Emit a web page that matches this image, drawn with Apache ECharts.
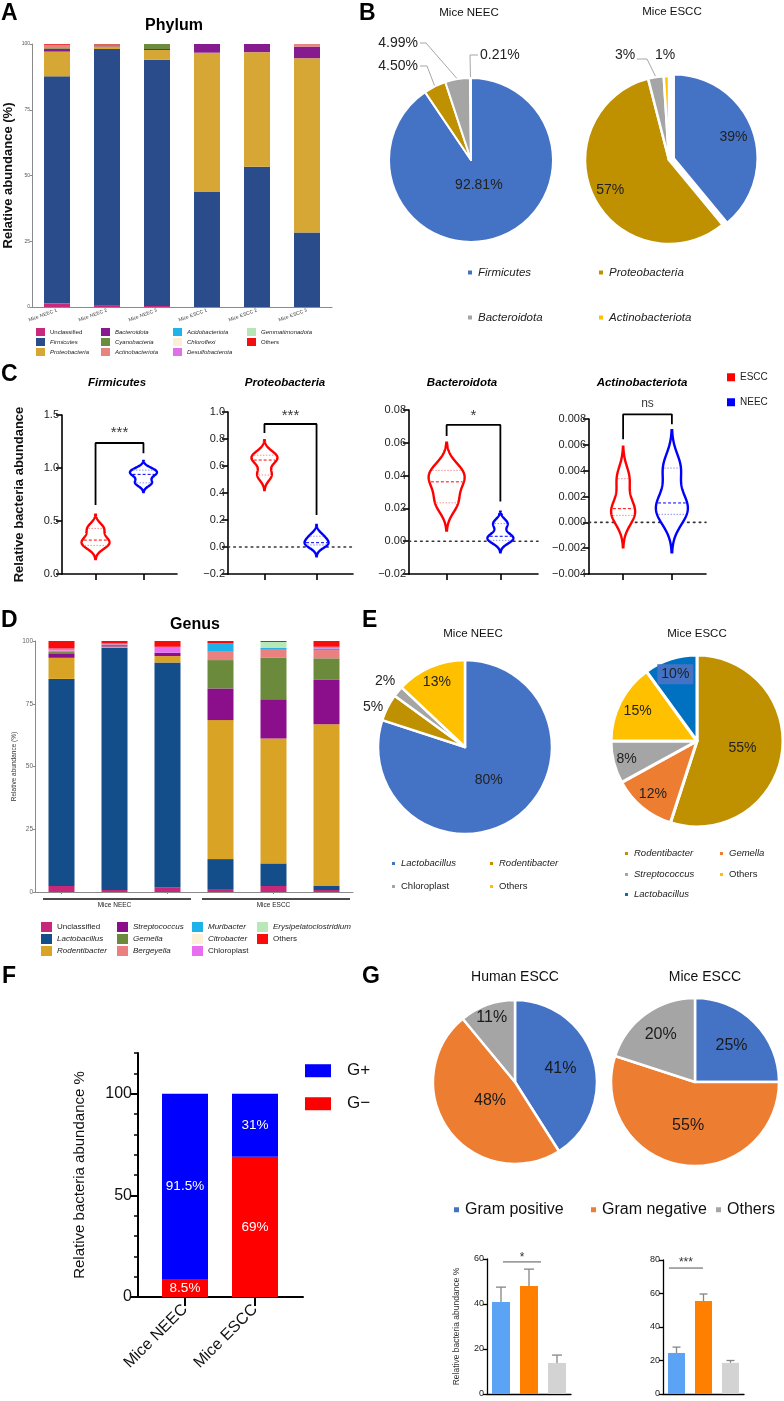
<!DOCTYPE html>
<html><head><meta charset="utf-8">
<script src="https://cdn.jsdelivr.net/npm/echarts@6/dist/echarts.min.js"></script>
<style>
html,body{margin:0;padding:0;background:#fff;width:784px;height:1401px;overflow:hidden}
.layer{position:absolute;left:0;top:0;width:784px;height:1401px}
</style>
</head><body>
<script>
// ================= DATA =================
// Panel A – phylum stacked bars (% per mouse)
const phylumSamples = ['Mice NEEC 1','Mice NEEC 2','Mice NEEC 3','Mice ESCC 1','Mice ESCC 2','Mice ESCC 3'];
const phylumNames = ['Unclassified','Firmicutes','Proteobacteria','Bacteroidota','Cyanobacteria','Actinobacteriota','Acidobacteriota','Chloroflexi','Desulfobacterota','Gemmatimonadota','Others'];
const phyUnclassified     = [1.3, 0.5, 0.4, 0, 0, 0];
const phyFirmicutes       = [86.4, 97.6, 93.6, 43.7, 53.3, 28.3];
const phyProteobacteria   = [9.4, 1.0, 3.7, 53.0, 43.6, 66.3];
const phyBacteroidota     = [1.0, 0.2, 0.4, 3.3, 3.1, 4.4];
const phyCyanobacteria    = [0.3, 0.5, 1.9, 0, 0, 0];
const phyActinobacteriota = [1.3, 0, 0, 0, 0, 1.0];
const phyAcidobacteriota  = [0, 0, 0, 0, 0, 0];
const phyChloroflexi      = [0, 0, 0, 0, 0, 0];
const phyDesulfobacterota = [0, 0, 0, 0, 0, 0];
const phyGemmatimonadota  = [0, 0, 0, 0, 0, 0];
const phyOthers           = [0.3, 0.2, 0, 0, 0, 0];

// Panel B – phylum pies
const phylaPie = ['Firmicutes','Proteobacteria','Bacteroidota','Actinobacteriota'];
const pieNEECPhylum = [92.81, 4.50, 4.99, 0.21];
const pieESCCPhylum = [39, 57, 3, 1];

// Panel C – violin samples (relative abundance)
const violinTaxa = ['Firmicutes','Proteobacteria','Bacteroidota','Actinobacteriota'];
const violinGroups = ['ESCC','NEEC'];
const firmicutesESCC = [0.27, 0.32, 0.43];
const firmicutesNEEC = [0.86, 0.94, 0.98];
const proteoESCC = [0.533, 0.644, 0.68];
const proteoNEEC = [0.015, 0.032, 0.08];
const bacteroESCC = [0.0234, 0.0362, 0.0432];
const bacteroNEEC = [0.0005, 0.0030, 0.0107];
const actinoESCC = [0.00054, 0.00106, 0.00338];
const actinoNEEC = [0.00062, 0.0015, 0.0042];
const sigLabels = ['***','***','*','ns'];
const sigBrackets = [[0.65,1.236,1.14],[0.845,0.911,0.237],[0.0642,0.0709,0.0242],[0.00643,0.00836,0.00759]]; // [left leg end, bar height, right leg end]
const sigTextY = [1.33, 0.97, 0.0764, 0.0092];

// Panel D – genus stacked bars
const genusSamples = ['Mice NEEC 1','Mice NEEC 2','Mice NEEC 3','Mice ESCC 1','Mice ESCC 2','Mice ESCC 3'];
const genusGroups = ['Mice NEEC','Mice ESCC'];
const genusNames = ['Unclassified','Lactobacillus','Rodentibacter','Streptococcus','Gemella','Bergeyella','Muribacter','Citrobacter','Chloroplast','Erysipelatoclostridium','Others'];
const genUnclassified  = [2.4, 0.8, 1.9, 1.2, 2.4, 0.8];
const genLactobacillus = [82.5, 96.5, 89.5, 11.9, 9.0, 1.6];
const genRodentibacter = [8.4, 0.5, 2.6, 55.4, 49.8, 64.4];
const genStreptococcus = [1.8, 0.5, 1.3, 12.6, 15.6, 17.7];
const genGemella       = [0.5, 0.3, 0, 11.3, 16.6, 8.6];
const genBergeyella    = [0.6, 0, 0, 3.3, 3.1, 3.3];
const genMuribacter    = [0, 0, 0, 3.3, 0.7, 0.6];
const genCitrobacter   = [0, 0, 0, 0, 0, 0];
const genChloroplast   = [0.8, 0.4, 2.4, 0, 0, 0.7];
const genErysipelatoclostridium = [0, 0, 0, 0, 2.4, 0];
const genOthers        = [3.0, 1.0, 2.3, 1.0, 0.4, 2.3];

// Panel E – genus pies
const genusPieNEECNames = ['Lactobacillus','Rodentibacter','Chloroplast','Others'];
const genusPieNEEC = [80, 5, 2, 13];
const genusPieESCCNames = ['Rodentibacter','Gemella','Streptococcus','Others','Lactobacillus'];
const genusPieESCC = [55, 12, 8, 15, 10];

// Panel F – Gram stacked bars
const gramGroups = ['Mice NEEC','Mice ESCC'];
const gramPositive = [91.5, 31];
const gramNegative = [8.5, 69];

// Panel G – Gram pies and bars
const gramClasses = ['Gram positive','Gram negative','Others'];
const humanESCCPie = [41, 48, 11];
const miceESCCPie = [25, 55, 20];
const humanBarMean = [40.9, 48, 13.8];
const humanBarErr  = [6.6, 7.5, 3.5];
const miceBarMean  = [24.5, 55.5, 18.6];
const miceBarErr   = [3.5, 4.2, 1.4];
const humanSig = [0, 58.7, 0.07, 1.43, 60.4];
const miceSig  = [0, 75.2, -0.28, 0.98, 78.2];

// ================= HELPERS =================
const FF = "'Liberation Sans', Arial, Helvetica, sans-serif";
function layer(opt){
  const d=document.createElement('div'); d.className='layer'; document.body.appendChild(d);
  const c=echarts.init(d); opt.animation=false;
  opt.textStyle=Object.assign({fontFamily:FF}, opt.textStyle||{});
  c.setOption(opt); return c;
}
function T(text,x,y,fs,o){ o=o||{};
  return {text:text,left:x,top:y,padding:0,textAlign:o.align||'center',textVerticalAlign:'middle',
    textStyle:{fontSize:fs,fontWeight:o.bold?'bold':'normal',fontStyle:o.italic?'italic':'normal',color:o.color||'#111',fontFamily:FF}};
}
function L(name,x,yc,o){
  const h=Math.max(o.h,o.fs*1.15);
  const item={name:name,icon:'rect',textStyle:{fontStyle:o.italic?'italic':'normal'}};
  if(o.color) item.itemStyle={color:o.color};
  return {data:[item],left:x,top:yc-h/2,padding:0,itemWidth:o.w,itemHeight:o.h,selectedMode:false,
    textStyle:{fontSize:o.fs,color:o.tc||'#222',fontFamily:FF,padding:o.pad||0}};
}
function pieMids(values){ const t=values.reduce((a,b)=>a+b,0); let acc=0;
  return values.map(v=>{const m=(acc+v/2)/t*2*Math.PI; acc+=v; return m;}); }
function shiftFor(values,r,fracs){ const mids=pieMids(values);
  return i=>{ const f=fracs[i]; return {dx:(f-0.5)*r*Math.sin(mids[i]), dy:-(f-0.5)*r*Math.cos(mids[i])}; }; }
function pieData(names,values,colors,insideIdx){
  return values.map((v,i)=>({name:names[i],value:v,itemStyle:{color:colors[i]},
    label:{position:insideIdx.indexOf(i)>=0?'inside':'outside'},labelLine:{show:insideIdx.indexOf(i)<0}}));
}
function pct(s,p){ const a=s.slice().sort((x,y)=>x-y); const n=a.length; let r=(n+1)*p; if(r<1) r=1; if(r>n) r=n;
  const lo=Math.floor(r), f=r-lo; return lo>=n?a[n-1]:a[lo-1]+f*(a[lo]-a[lo-1]); }

// ================= PANEL A =================
const phylumRows=[phyUnclassified,phyFirmicutes,phyProteobacteria,phyBacteroidota,phyCyanobacteria,phyActinobacteriota,phyAcidobacteriota,phyChloroflexi,phyDesulfobacterota,phyGemmatimonadota,phyOthers];
const phylumColors=['#c9297c','#2b4c8a','#d6a735','#861a8f','#6d8b3f','#e8847f','#20b3ea','#fcefd6','#e070e8','#b6e6b6','#f01010'];
layer({
  title:[T('A',1,14,23,{bold:true,align:'left',color:'#000'}),T('Phylum',174,26,16,{bold:true,color:'#000'})],
  grid:{left:32,top:44,width:300,height:263},
  xAxis:{type:'category',data:phylumSamples,axisLine:{lineStyle:{color:'#8a8a8a'}},axisTick:{show:false},
    axisLabel:{rotate:20,fontSize:5,color:'#444',margin:3,interval:0}},
  yAxis:{type:'value',min:0,max:100,interval:25,axisLine:{show:true,lineStyle:{color:'#8a8a8a'}},
    axisTick:{show:true,length:2,lineStyle:{color:'#8a8a8a'}},splitLine:{show:false},
    axisLabel:{fontSize:5,color:'#555',margin:2},
    name:'Relative abundance (%)',nameLocation:'middle',nameGap:17,nameTextStyle:{fontSize:13,fontWeight:'bold',color:'#111'}},
  legend:phylumNames.map((n,i)=>L(n,[36,101,173,247][Math.floor(i/3)],332+10*(i%3),{w:9,h:8,fs:6,italic:!(n==='Unclassified'||n==='Others')})),
  series:phylumNames.map((n,i)=>({name:n,type:'bar',stack:'p',barWidth:26,data:phylumRows[i],itemStyle:{color:phylumColors[i]}}))
});

// ================= PANEL B =================
const bColors=['#4472c4','#bf9000','#a5a5a5','#ffc000'];
const bNeecShift=shiftFor(pieNEECPhylum,82,[0.29]);
const bNeecOut={1:{x:418,y:66,align:'right',ex:427},2:{x:418,y:43,align:'right',ex:426},3:{x:480,y:55,align:'left',ex:470}};
const bEsccShift=shiftFor(pieESCCPhylum,84,[0.72,0.75]);
const bEsccOut={2:{x:625,y:55,align:'center',ex:647,end:[637,59]},3:{x:665,y:55,align:'center'}};
const bEsccData=pieData(phylaPie,pieESCCPhylum,bColors,[0,1]);
bEsccData[0].selected=true; bEsccData[3].labelLine={show:false};
layer({
  title:[T('B',359,14,23,{bold:true,align:'left',color:'#000'}),T('Mice NEEC',469,13,11.5),T('Mice ESCC',672,12,11.5)],
  legend:[L('Firmicutes',466,273,{w:6,h:6,fs:11.5,italic:true}),L('Proteobacteria',597,273,{w:6,h:6,fs:11.5,italic:true}),
          L('Bacteroidota',466,318,{w:6,h:6,fs:11.5,italic:true}),L('Actinobacteriota',597,318,{w:6,h:6,fs:11.5,italic:true})],
  series:[
    {type:'pie',center:[471,160],radius:82,startAngle:90,clockwise:true,avoidLabelOverlap:false,silent:true,
     itemStyle:{borderColor:'#fff',borderWidth:2},
     label:{fontSize:14,color:'#222',formatter:p=>p.value.toFixed(2)+'%'},
     labelLine:{length:8,length2:8,lineStyle:{color:'#a6a6a6',width:1}},
     data:pieData(phylaPie,pieNEECPhylum,bColors,[0]),
     labelLayout:function(p){ const i=p.dataIndex; if(i===0) return bNeecShift(0);
       const q=bNeecOut[i]; const r={x:q.x,y:q.y,align:q.align,verticalAlign:'middle'};
       if(p.labelLinePoints){ const e=p.labelLinePoints[0]; const endX=q.align==='right'?q.x+2:q.x-2;
         r.labelLinePoints=[[e[0],e[1]],[q.ex,q.y],[endX,q.y]]; }
       return r; }},
    {type:'pie',center:[669,160],radius:84,startAngle:90,clockwise:true,avoidLabelOverlap:false,silent:true,
     selectedMode:'single',selectedOffset:5,
     itemStyle:{borderColor:'#fff',borderWidth:2.5},
     label:{fontSize:14,color:'#222',formatter:p=>p.value+'%'},
     labelLine:{length:8,length2:8,lineStyle:{color:'#a6a6a6',width:1}},
     data:bEsccData,
     labelLayout:function(p){ const i=p.dataIndex; if(i<2) return bEsccShift(i);
       const q=bEsccOut[i]; const r={x:q.x,y:q.y,align:q.align,verticalAlign:'middle'};
       if(q.end && p.labelLinePoints){ const e=p.labelLinePoints[0]; r.labelLinePoints=[[e[0],e[1]],[q.ex,q.end[1]],q.end]; }
       return r; }}
  ]
});

// ================= PANEL C =================
const cGrids=[{left:62,top:415,width:115,height:159},{left:228,top:412,width:125,height:162},{left:409,top:410,width:129,height:164},{left:589,top:419,width:117,height:155}];
const cAxes=[{min:0,max:1.5,interval:0.5,d:1},{min:-0.2,max:1.0,interval:0.2,d:1},{min:-0.02,max:0.08,interval:0.02,d:2},{min:-0.004,max:0.008,interval:0.002,d:3}];
const cSamples=[[firmicutesESCC,firmicutesNEEC],[proteoESCC,proteoNEEC],[bacteroESCC,bacteroNEEC],[actinoESCC,actinoNEEC]];
const cBw=[[0.05,0.033],[0.043,0.032],[0.0065,0.0028],[0.00095,0.00113]];
const cHw=[[14,13.5],[13,12],[18,13],[12,16]];
const cTitleX=[117,285,462,642];
function violinSeries(p,gi){
  const samples=cSamples[p][gi], bw=cBw[p][gi], hw=cHw[p][gi];
  const color=gi===0?'#ff0000':'#0000ff', light=gi===0?'#f29090':'#9090f5';
  return {type:'custom',name:violinGroups[gi],xAxisIndex:p,yAxisIndex:p,data:[[gi,pct(samples,0.5)]],encode:{x:0,y:1},
    itemStyle:{color:color},clip:false,z:3,silent:true,
    renderItem:function(params,api){
      const kde=y=>samples.reduce((a,v)=>{const z=(y-v)/bw; return a+Math.exp(-0.5*z*z);},0);
      const lo=Math.min.apply(null,samples)-2.6*bw, hi=Math.max.apply(null,samples)+2.6*bw, N=140;
      const ys=[]; for(let k=0;k<=N;k++) ys.push(lo+(hi-lo)*k/N);
      const ds=ys.map(kde); const dmax=Math.max.apply(null,ds);
      const cx=api.coord([gi,lo])[0]; const R=[],Lf=[];
      ys.forEach((y,k)=>{const py=api.coord([gi,y])[1]; const w=hw*ds[k]/dmax; R.push([cx+w,py]); Lf.push([cx-w,py]);});
      const pts=R.concat(Lf.reverse());
      const qs=[pct(samples,0.25),pct(samples,0.5),pct(samples,0.75)];
      const lines=qs.map((q,j)=>{const py=api.coord([gi,q])[1]; const w=Math.max(hw*kde(q)/dmax-1.5,1);
        return {type:'line',shape:{x1:cx-w,y1:py,x2:cx+w,y2:py},style:{stroke:j===1?color:light,lineWidth:1,lineDash:j===1?[3,2]:[1.5,1.5]}};});
      return {type:'group',children:[{type:'polygon',shape:{points:pts},style:{fill:'#fff',stroke:color,lineWidth:2.4}}].concat(lines)};
    }};
}
const cSeries=[];
for(let p=0;p<4;p++){
  cSeries.push(violinSeries(p,0),violinSeries(p,1));
  const b=sigBrackets[p];
  cSeries.push({type:'line',xAxisIndex:p,yAxisIndex:p,data:[[0,b[0]],[0,b[1]],[1,b[1]],[1,b[2]]],symbol:'none',
    lineStyle:{color:'#000',width:1.8},clip:false,silent:true,z:4});
  cSeries.push({type:'scatter',xAxisIndex:p,yAxisIndex:p,data:[[0.5,sigTextY[p]]],symbolSize:1,itemStyle:{color:'rgba(0,0,0,0)'},
    clip:false,silent:true,label:{show:true,position:'inside',formatter:sigLabels[p],fontSize:sigLabels[p]==='ns'?12:15,color:'#000'}});
  if(p>0) cSeries.push({type:'line',xAxisIndex:p,yAxisIndex:p,data:[[-0.7,0],[1.7,0]],symbol:'none',silent:true,z:2,
    lineStyle:{color:'#333',width:1.6,type:[1.6,4.2],cap:'round'}});
}
layer({
  title:[T('C',1,375,23,{bold:true,align:'left',color:'#000'})].concat(violinTaxa.map((t,i)=>T(t,cTitleX[i],383,11.5,{bold:true,italic:true,color:'#000'}))),
  legend:[L('ESCC',727,378,{w:8,h:8,fs:10,color:'#ff0000'}),L('NEEC',727,403,{w:8,h:8,fs:10,color:'#0000ff'})],
  grid:cGrids,
  xAxis:cGrids.map((g,i)=>({type:'value',gridIndex:i,min:-0.7,max:1.7,splitLine:{show:false},
    axisLine:{show:true,onZero:false,lineStyle:{color:'#000',width:1.6}},
    axisTick:{show:true,customValues:[0,1],length:6,lineStyle:{color:'#000',width:1.6}},axisLabel:{show:false}})),
  yAxis:cAxes.map((a,i)=>{
    const ax={type:'value',gridIndex:i,min:a.min,max:a.max,interval:a.interval,splitLine:{show:false},
      axisLine:{show:true,onZero:false,lineStyle:{color:'#000',width:1.6}},
      axisTick:{show:true,length:6,lineStyle:{color:'#000',width:1.6}},
      axisLabel:{fontSize:11,color:'#222',margin:3,formatter:v=>(v<-1e-12?'\u2212':'')+Math.abs(v).toFixed(a.d)}};
    if(i===0){ax.name='Relative bacteria abundance';ax.nameLocation='middle';ax.nameGap=36;
      ax.nameTextStyle={fontSize:13,fontWeight:'bold',color:'#111'};}
    return ax;}),
  series:cSeries
});

// ================= PANEL D =================
const genusRows=[genUnclassified,genLactobacillus,genRodentibacter,genStreptococcus,genGemella,genBergeyella,genMuribacter,genCitrobacter,genChloroplast,genErysipelatoclostridium,genOthers];
const genusColors=['#c8287a','#134e8a','#d9a426','#8b0f8b','#6b8a3c','#ea8080','#1fb1ea','#fdf0d8','#e86ef0','#b8e8b8','#f80c0c'];
const plainGenus=['Unclassified','Chloroplast','Others'];
layer({
  title:[T('D',1,621,23,{bold:true,align:'left',color:'#000'}),T('Genus',195,625,16,{bold:true,color:'#000'})],
  grid:{left:35,top:641,width:318,height:251},
  xAxis:[{type:'category',data:genusSamples,axisLine:{lineStyle:{color:'#8a8a8a'}},
          axisTick:{show:true,alignWithLabel:true,length:2,lineStyle:{color:'#8a8a8a'}},axisLabel:{show:false}},
         {type:'category',data:genusGroups,position:'bottom',offset:6,axisLine:{show:false},axisTick:{show:false},
          axisLabel:{fontSize:6.5,color:'#222',margin:4}}],
  yAxis:{type:'value',min:0,max:100,interval:25,axisLine:{show:true,lineStyle:{color:'#8a8a8a'}},
    axisTick:{show:true,length:2,lineStyle:{color:'#8a8a8a'}},splitLine:{show:false},
    axisLabel:{fontSize:6.5,color:'#666',margin:2},
    name:'Relative abundance (%)',nameLocation:'middle',nameGap:17,nameTextStyle:{fontSize:6.5,color:'#333'}},
  legend:genusNames.map((n,i)=>L(n,[41,117,192,257][Math.floor(i/3)],927+12*(i%3),{w:11,h:10,fs:8,italic:plainGenus.indexOf(n)<0})),
  graphic:[{type:'line',shape:{x1:43,y1:899,x2:191,y2:899},style:{stroke:'#111',lineWidth:1.5}},
           {type:'line',shape:{x1:202,y1:899,x2:350,y2:899},style:{stroke:'#111',lineWidth:1.5}}],
  series:genusNames.map((n,i)=>({name:n,type:'bar',stack:'g',barWidth:26,data:genusRows[i],itemStyle:{color:genusColors[i]}}))
});

// ================= PANEL E =================
const eNeecColors=['#4472c4','#bf9000','#a5a5a5','#ffc000'];
const eEsccColors=['#bf9000','#ed7d31','#a5a5a5','#ffc000','#0070c0'];
const eNeecShift=shiftFor(genusPieNEEC,87,[0.43,null,null,0.78]);
const eNeecOut={1:{x:373,y:707},2:{x:385,y:681}};
const eEsccShift=shiftFor(genusPieESCC,86,[0.5,0.77,0.81,0.74,0.78]);
const eEsccData=pieData(genusPieESCCNames,genusPieESCC,eEsccColors,[0,1,2,3,4]);
eEsccData[4].label={position:'inside',backgroundColor:'#4472c4',padding:[3,4]};
const eNeecData=pieData(genusPieNEECNames,genusPieNEEC,eNeecColors,[0,3]);
eNeecData[1].labelLine={show:false}; eNeecData[2].labelLine={show:false};
const legE={w:5,h:5,fs:9.5};
layer({
  title:[T('E',362,621,23,{bold:true,align:'left',color:'#000'}),T('Mice NEEC',473,634,11.5),T('Mice ESCC',697,634,11.5)],
  legend:[L('Lactobacillus',390,864,Object.assign({italic:true,color:eNeecColors[0]},legE)),
          L('Rodentibacter',488,864,Object.assign({italic:true,color:eNeecColors[1]},legE)),
          L('Chloroplast',390,887,Object.assign({italic:false,color:eNeecColors[2]},legE)),
          L('Others',488,887,Object.assign({italic:false,color:eNeecColors[3]},legE)),
          L('Rodentibacter',623,854,Object.assign({italic:true,color:eEsccColors[0]},legE)),
          L('Gemella',718,854,Object.assign({italic:true,color:eEsccColors[1]},legE)),
          L('Streptococcus',623,875,Object.assign({italic:true,color:eEsccColors[2]},legE)),
          L('Others',718,875,Object.assign({italic:false,color:eEsccColors[3]},legE)),
          L('Lactobacillus',623,895,Object.assign({italic:true,color:eEsccColors[4]},legE))],
  series:[
    {type:'pie',center:[465,747],radius:87,startAngle:90,clockwise:true,avoidLabelOverlap:false,silent:true,
     itemStyle:{borderColor:'#fff',borderWidth:2.5},
     label:{fontSize:14,color:'#222',formatter:p=>p.value+'%'},labelLine:{show:false},
     data:eNeecData,
     labelLayout:function(p){ const i=p.dataIndex; if(eNeecOut[i]) return {x:eNeecOut[i].x,y:eNeecOut[i].y,align:'center',verticalAlign:'middle'};
       return eNeecShift(i); }},
    {type:'pie',center:[697,741],radius:86,startAngle:90,clockwise:true,avoidLabelOverlap:false,silent:true,
     itemStyle:{borderColor:'#fff',borderWidth:3},
     label:{fontSize:14,color:'#222',formatter:p=>p.value+'%'},labelLine:{show:false},
     data:eEsccData,
     labelLayout:function(p){ return eEsccShift(p.dataIndex); }}
  ]
});

// ================= PANEL F =================
// grid 0 carries the visible axes, grid 1 (same vertical scale) carries the stacked category bars
layer({
  title:[T('F',2,977,23,{bold:true,align:'left',color:'#000'})],
  grid:[{left:138,top:1053,width:165,height:244},{left:150,top:1053,width:140,height:244}],
  xAxis:[{type:'value',gridIndex:0,min:-0.671,max:1.686,splitLine:{show:false},
    axisLine:{show:true,onZero:false,lineStyle:{color:'#000',width:2}},
    axisTick:{show:true,customValues:[0,1],length:9,lineStyle:{color:'#000',width:2}},
    axisLabel:{customValues:[0,1],formatter:v=>gramGroups[Math.round(v)],rotate:45,fontSize:16,color:'#111',margin:10}},
   {type:'category',gridIndex:1,data:gramGroups,show:false}],
  yAxis:[{type:'value',gridIndex:0,min:0,max:120,splitLine:{show:false},
    axisLine:{show:true,onZero:false,lineStyle:{color:'#000',width:2}},
    axisTick:{show:true,customValues:[0,50,100],length:8,lineStyle:{color:'#000',width:2}},
    axisLabel:{customValues:[0,50,100],fontSize:16,color:'#111',margin:6},
    name:'Relative bacteria abundance %',nameLocation:'middle',nameGap:51,nameTextStyle:{fontSize:15,color:'#111'}},
   {type:'value',gridIndex:0,position:'left',min:0,max:120,interval:10,splitLine:{show:false},
    axisLine:{show:false,onZero:false},
    axisTick:{show:true,length:4,lineStyle:{color:'#000',width:1.5}},axisLabel:{show:false}},
   {type:'value',gridIndex:1,min:0,max:120,show:false,splitLine:{show:false}}],
  legend:[L('G+',305,1072,{w:26,h:13,fs:17,pad:[0,0,0,11],tc:'#111'}),L('G\u2212',305,1105,{w:26,h:13,fs:17,pad:[0,0,0,11],tc:'#111'})],
  series:[
    {name:'G\u2212',type:'bar',xAxisIndex:1,yAxisIndex:2,stack:'gram',barWidth:46,data:gramNegative,itemStyle:{color:'#ff0000'},
     label:{show:true,position:'inside',color:'#fff',fontSize:13.5,formatter:p=>p.value+'%'}},
    {name:'G+',type:'bar',xAxisIndex:1,yAxisIndex:2,stack:'gram',barWidth:46,data:gramPositive,itemStyle:{color:'#0000ff'},
     label:{show:true,position:'inside',color:'#fff',fontSize:13.5,formatter:p=>p.value+'%'}}
  ]
});

// ================= PANEL G =================
const gPieColors=['#4472c4','#ed7d31','#a5a5a5'];
const gBarColors=['#5ba3f5','#ff8000','#d3d3d3'];
const gHumanShift=shiftFor(humanESCCPie,82,[0.54,0.34,0.80]);
const gMiceShift=shiftFor(miceESCCPie,84,[0.58,0.49,0.66]);
function errSeries(k,means,errs,cap){
  return {type:'custom',xAxisIndex:k,yAxisIndex:k,data:means.map((v,i)=>[i,v,errs[i]]),clip:false,silent:true,z:3,
    renderItem:function(params,api){ const i=api.value(0),v=api.value(1),e=api.value(2);
      const b=api.coord([i,v]), t=api.coord([i,v+e]);
      const st={stroke:'#858585',lineWidth:1.3};
      return {type:'group',children:[{type:'line',shape:{x1:b[0],y1:b[1],x2:t[0],y2:t[1]},style:st},
        {type:'line',shape:{x1:t[0]-cap/2,y1:t[1],x2:t[0]+cap/2,y2:t[1]},style:st}]}; }};
}
function sigSeries(k,spec,text){
  return {type:'custom',xAxisIndex:k,yAxisIndex:k,data:[spec],clip:false,silent:true,z:4,
    renderItem:function(params,api){ const yl=api.value(1),f0=api.value(2),f1=api.value(3),yt=api.value(4);
      const c=api.coord([0,yl]); const band=api.size([1,0])[0]; const x0=c[0]+f0*band, x1=c[0]+f1*band;
      const ty=api.coord([0,yt])[1];
      return {type:'group',children:[{type:'line',shape:{x1:x0,y1:c[1],x2:x1,y2:c[1]},style:{stroke:'#555',lineWidth:1}},
        {type:'text',style:{text:text,x:(x0+x1)/2,y:ty,align:'center',verticalAlign:'middle',fontSize:12,fontFamily:FF,fill:'#333'}}]}; }};
}
const gGrids=[{left:487,top:1259,width:84,height:135},{left:663,top:1260,width:81,height:134}];
const legG={w:7,h:7,fs:16,tc:'#111'};
layer({
  title:[T('G',362,977,23,{bold:true,align:'left',color:'#000'}),T('Human ESCC',515,977,14),T('Mice ESCC',705,977,14)],
  legend:[L('Gram positive',452,1211,legG),L('Gram negative',589,1211,legG),L('Others',714,1211,legG)],
  grid:gGrids,
  xAxis:gGrids.map((g,k)=>({type:'category',gridIndex:k,data:gramClasses,
    axisLine:{lineStyle:{color:'#000',width:1.3}},axisTick:{alignWithLabel:true,length:5,lineStyle:{color:'#000',width:1.3}},axisLabel:{show:false}})),
  yAxis:gGrids.map((g,k)=>{ const ax={type:'value',gridIndex:k,min:0,max:[60,80][k],interval:20,splitLine:{show:false},
    axisLine:{show:true,lineStyle:{color:'#000',width:1.3}},axisTick:{show:true,length:4,lineStyle:{color:'#000',width:1.3}},
    axisLabel:{fontSize:9,color:'#222',margin:3}};
    if(k===0){ax.name='Relative bacteria abundance %';ax.nameLocation='middle';ax.nameGap=26;ax.nameTextStyle={fontSize:8.5,color:'#333'};}
    return ax;}),
  series:[
    {type:'pie',center:[515,1082],radius:82,startAngle:90,clockwise:true,avoidLabelOverlap:false,silent:true,
     itemStyle:{borderColor:'#fff',borderWidth:2.5},label:{position:'inside',fontSize:16,color:'#1a1a1a',formatter:p=>p.value+'%'},
     data:pieData(gramClasses,humanESCCPie,gPieColors,[0,1,2]),labelLayout:p=>gHumanShift(p.dataIndex)},
    {type:'pie',center:[695,1082],radius:84,startAngle:90,clockwise:true,avoidLabelOverlap:false,silent:true,
     itemStyle:{borderColor:'#fff',borderWidth:2.5},label:{position:'inside',fontSize:16,color:'#1a1a1a',formatter:p=>p.value+'%'},
     data:pieData(gramClasses,miceESCCPie,gPieColors,[0,1,2]),labelLayout:p=>gMiceShift(p.dataIndex)},
    {type:'bar',xAxisIndex:0,yAxisIndex:0,barWidth:18,silent:true,data:humanBarMean.map((v,i)=>({value:v,itemStyle:{color:gBarColors[i]}}))},
    {type:'bar',xAxisIndex:1,yAxisIndex:1,barWidth:17,silent:true,data:miceBarMean.map((v,i)=>({value:v,itemStyle:{color:gBarColors[i]}}))},
    errSeries(0,humanBarMean,humanBarErr,10),
    errSeries(1,miceBarMean,miceBarErr,8),
    sigSeries(0,humanSig,'*'),
    sigSeries(1,miceSig,'***')
  ]
});
</script>
</body></html>
